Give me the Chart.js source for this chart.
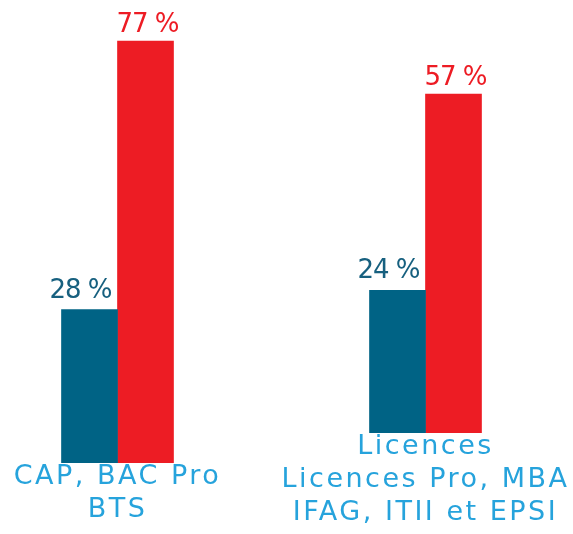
<!DOCTYPE html>
<html>
<head>
<meta charset="utf-8">
<script src="https://cdn.jsdelivr.net/npm/chart.js@4/dist/chart.umd.min.js"></script>
<style>
  html, body { margin: 0; padding: 0; background: #fff; }
  body { width: 573px; height: 534px; position: relative; overflow: hidden; }
  canvas { position: absolute; top: 0; }
  #chart-left { left: 0; }
  #chart-right { left: 278px; }
</style>
</head>
<body>
<canvas id="chart-left" width="235" height="523"></canvas>
<canvas id="chart-right" width="295" height="526"></canvas>
<script>
// Two diploma groups, each with a pair of percentages
const categories = [
  ['CAP, BAC Pro', 'BTS'],
  ['Licences', 'Licences Pro, MBA', 'IFAG, ITII et EPSI']
];
const tealValues = [28, 24];
const redValues = [77, 57];

const TEAL = '#006385';
const TEAL_TEXT = '#17607f';
const RED = '#ed1c24';
const AXIS_BLUE = '#26a3dc';
const FONT = "'DejaVu Sans', sans-serif";

// Draws "NN %" over each bar: teal label hugs the right side, red label starts at the bar's left edge
const valueLabels = {
  id: 'valueLabels',
  beforeDraw(chart) {
    chart.ctx.letterSpacing = '2.5px';
  },
  afterDatasetsDraw(chart) {
    const ctx = chart.ctx;
    ctx.save();
    ctx.letterSpacing = '-1px';
    ctx.font = '26px ' + FONT;
    ctx.textBaseline = 'alphabetic';
    chart.data.datasets.forEach((ds, di) => {
      const meta = chart.getDatasetMeta(di);
      meta.data.forEach((bar, i) => {
        const text = ds.data[i] + ' %';
        const half = bar.width / 2;
        ctx.fillStyle = ds.labelColor;
        if (di === 0) {
          ctx.textAlign = 'right';
          ctx.fillText(text, bar.x + half - 6, bar.y - 12);
        } else {
          ctx.textAlign = 'left';
          ctx.fillText(text, bar.x - half - 1, bar.y - 9);
        }
      });
    });
    ctx.restore();
  }
};

function makeChart(canvasId, idx, yMax) {
  return new Chart(document.getElementById(canvasId), {
    type: 'bar',
    data: {
      labels: [categories[idx]],
      datasets: [
        { data: [tealValues[idx]], backgroundColor: TEAL, labelColor: TEAL_TEXT, barThickness: 56 },
        { data: [redValues[idx]], backgroundColor: RED, labelColor: RED, barThickness: 56 }
      ]
    },
    options: {
      responsive: false,
      animation: false,
      layout: { padding: 0 },
      plugins: { legend: { display: false }, tooltip: { enabled: false } },
      scales: {
        x: {
          grid: { display: false, drawTicks: false },
          border: { display: false },
          ticks: {
            color: AXIS_BLUE,
            font: { family: FONT, size: 27, lineHeight: '33px' },
            padding: -3,
            maxRotation: 0,
            autoSkip: false
          }
        },
        y: { display: false, min: 0, max: yMax }
      }
    },
    plugins: [valueLabels]
  });
}

makeChart('chart-left', 0, 84.5);
makeChart('chart-right', 1, 72.8);
</script>
</body>
</html>
